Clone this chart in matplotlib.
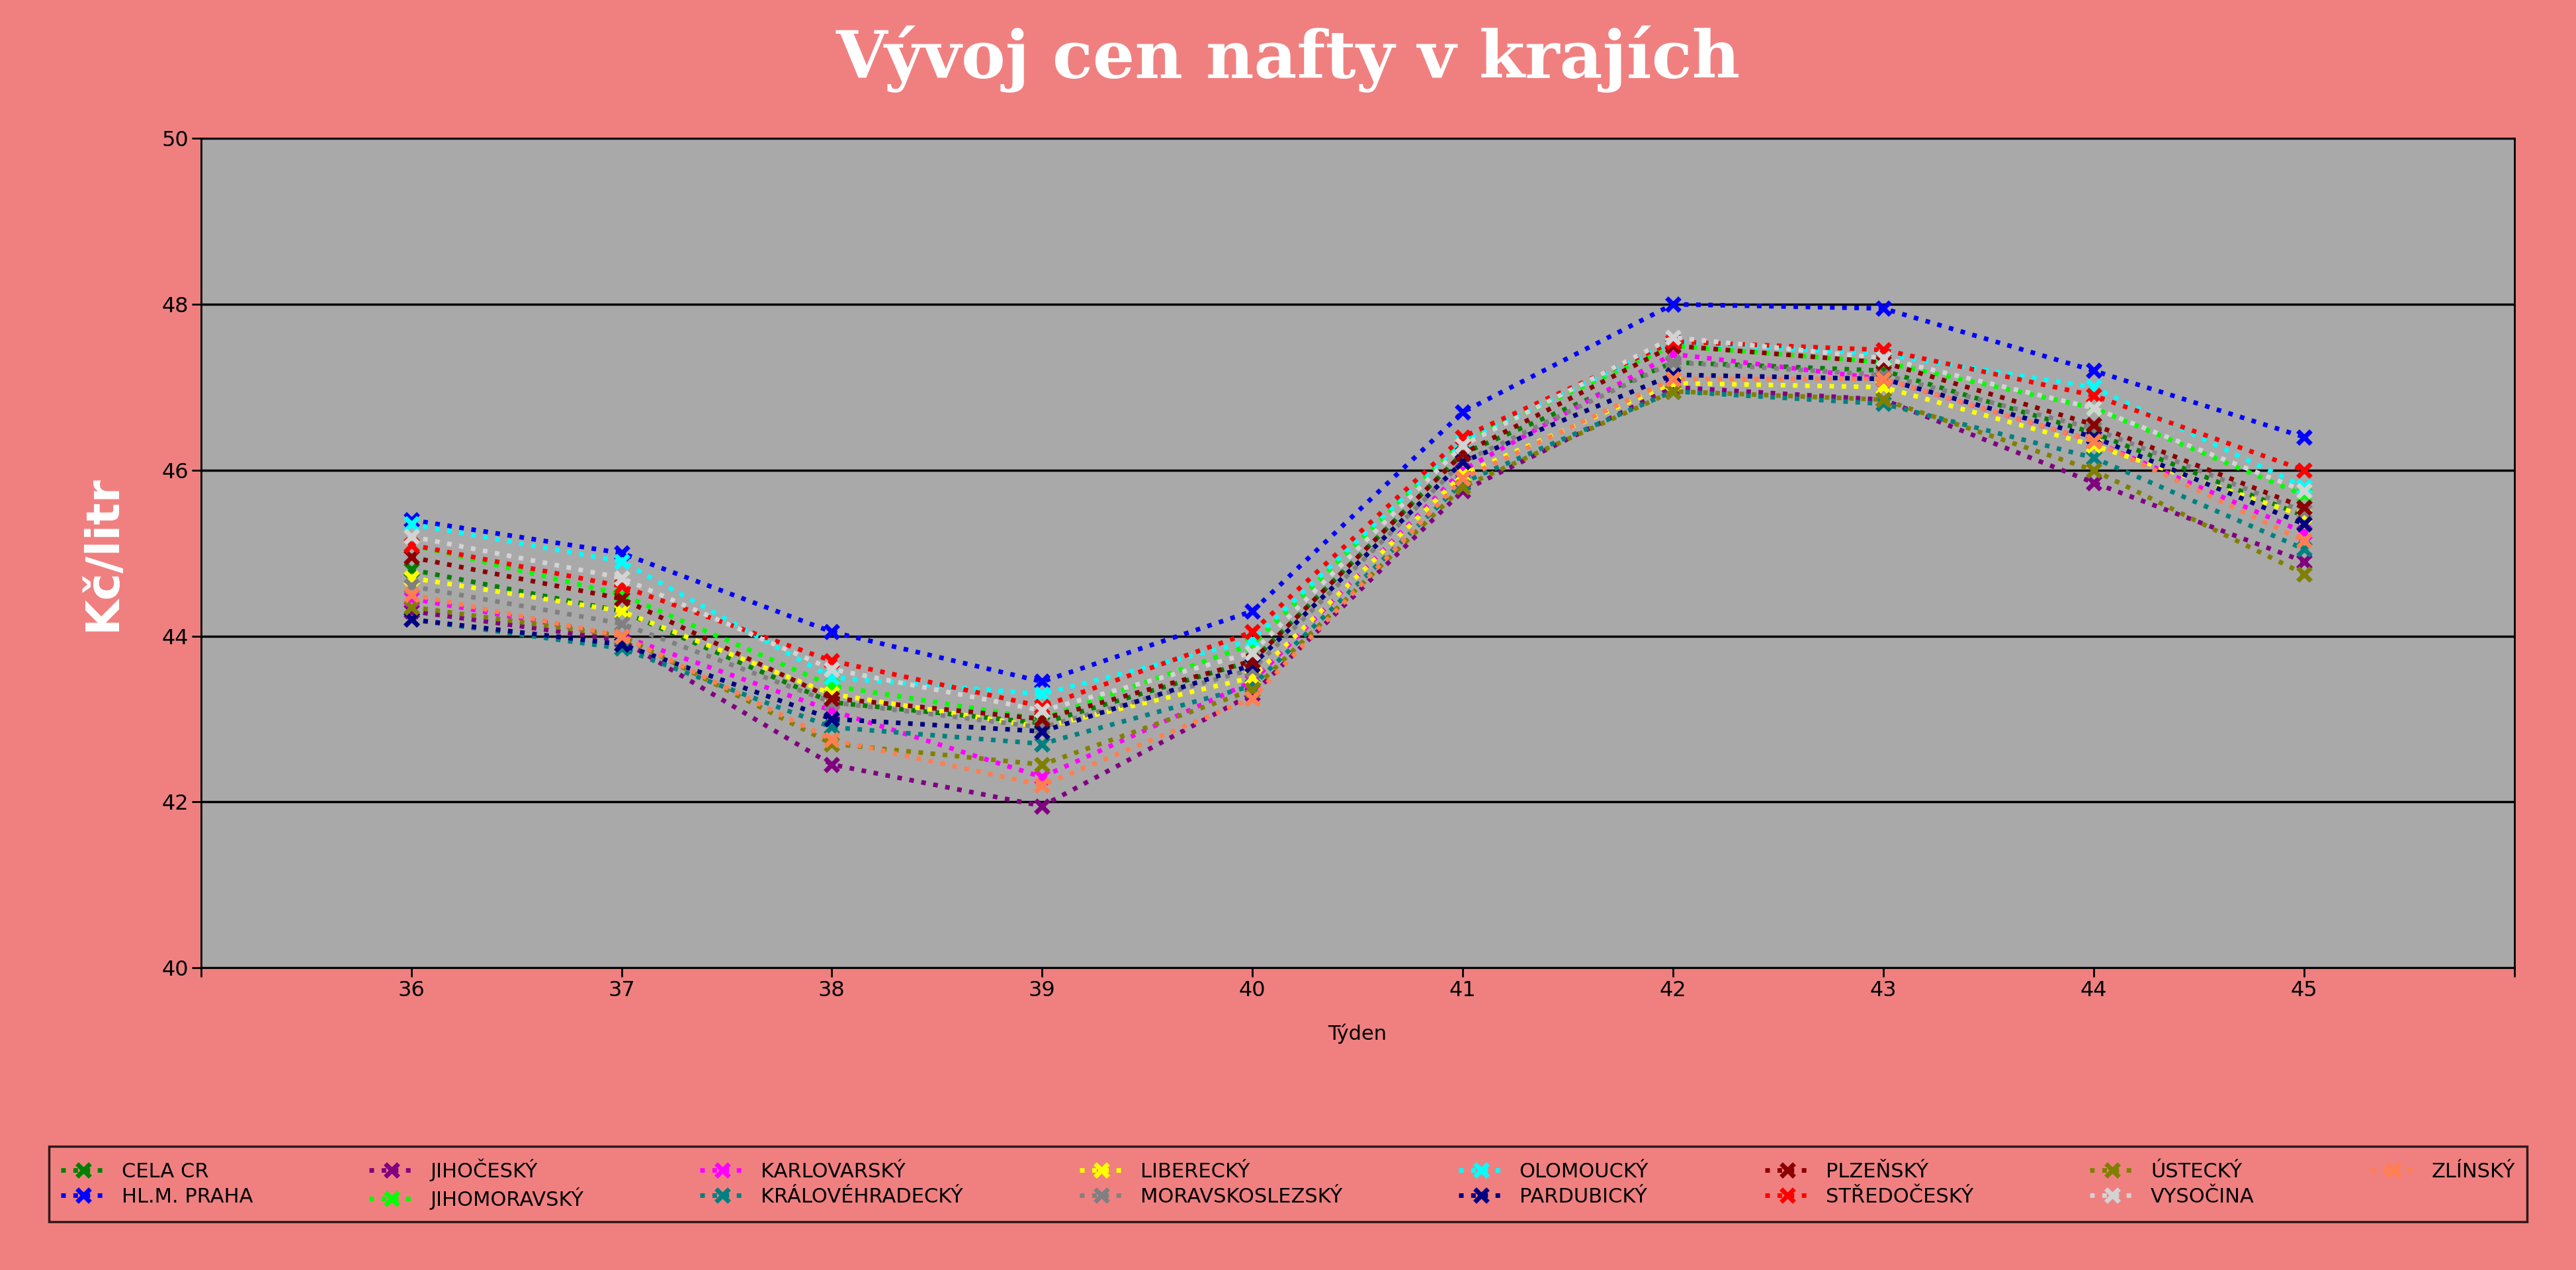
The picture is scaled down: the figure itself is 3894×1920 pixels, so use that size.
import matplotlib; matplotlib.use("Agg")
import matplotlib.pyplot as plt

weeks = [36, 37, 38, 39, 40, 41, 42, 43, 44, 45]
names = ["CELA CR", "HL.M. PRAHA", "JIHOČESKÝ", "JIHOMORAVSKÝ", "KARLOVARSKÝ",
         "KRÁLOVÉHRADECKÝ", "LIBERECKÝ", "MORAVSKOSLEZSKÝ", "OLOMOUCKÝ", "PARDUBICKÝ",
         "PLZEŇSKÝ", "STŘEDOČESKÝ", "ÚSTECKÝ", "VYSOČINA", "ZLÍNSKÝ"]
colors = ["green", "blue", "purple", "lime", "magenta", "teal", "yellow", "gray",
          "cyan", "navy", "darkred", "red", "olive", "lightgray", "coral"]

cela_cr   = [44.80, 44.30, 43.20, 42.95, 43.70, 46.20, 47.30, 47.20, 46.45, 45.45]
praha     = [45.40, 45.00, 44.05, 43.45, 44.30, 46.70, 48.00, 47.95, 47.20, 46.40]
jihocesky = [44.30, 43.95, 42.45, 41.95, 43.30, 45.75, 47.00, 46.85, 45.85, 44.90]
jihomor   = [45.10, 44.50, 43.40, 43.00, 43.90, 46.35, 47.50, 47.30, 46.75, 45.70]
karlovar  = [44.45, 44.00, 43.10, 42.30, 43.45, 46.00, 47.40, 47.10, 46.35, 45.25]
kralove   = [44.20, 43.85, 42.90, 42.70, 43.40, 45.85, 46.95, 46.80, 46.15, 45.05]
liberec   = [44.70, 44.30, 43.30, 42.90, 43.50, 45.95, 47.05, 47.00, 46.30, 45.45]
moravsko  = [44.60, 44.15, 43.20, 42.90, 43.60, 46.10, 47.30, 47.15, 46.50, 45.50]
olomouc   = [45.35, 44.90, 43.50, 43.30, 43.95, 46.35, 47.55, 47.40, 47.00, 45.80]
pardubice = [44.20, 43.90, 43.00, 42.85, 43.65, 46.10, 47.15, 47.10, 46.40, 45.35]
plzen     = [44.95, 44.45, 43.25, 43.00, 43.70, 46.20, 47.50, 47.30, 46.55, 45.55]
stredo    = [45.10, 44.60, 43.70, 43.15, 44.05, 46.40, 47.55, 47.45, 46.90, 46.00]
usti      = [44.35, 44.00, 42.70, 42.45, 43.35, 45.80, 46.95, 46.85, 46.00, 44.75]
vysocina  = [45.20, 44.70, 43.60, 43.10, 43.80, 46.30, 47.60, 47.35, 46.75, 45.75]
zlin      = [44.50, 44.00, 42.75, 42.20, 43.25, 45.90, 47.10, 47.10, 46.35, 45.15]
series = [cela_cr, praha, jihocesky, jihomor, karlovar, kralove, liberec, moravsko,
          olomouc, pardubice, plzen, stredo, usti, vysocina, zlin]

bg = "#F08080"
fig = plt.figure(figsize=(38.94, 19.2), dpi=100, facecolor=bg)
ax = fig.add_axes([0.078, 0.238, 0.898, 0.653])
ax.set_facecolor("#A9A9A9")
for name, c, vals in zip(names, colors, series):
    ax.plot(weeks, vals, linestyle=":", color=c, lw=5, marker="x", ms=14, mew=5, label=name)

ax.set_xlim(35, 46)
ax.set_ylim(40, 50)
ax.set_xticks(range(35, 47))
ax.set_xticklabels([""] + [str(w) for w in weeks] + [""])
ax.set_yticks(range(40, 51, 2))
ax.grid(axis="y", color="black", lw=2.5)
ax.set_axisbelow(True)
ax.tick_params(labelsize=23, length=10, width=2)
for s in ax.spines.values():
    s.set_linewidth(2)
ax.set_xlabel("Týden", fontsize=22, labelpad=25)
ax.set_ylabel("Kč/litr", fontsize=50, color="white", fontweight="bold", labelpad=40)
fig.suptitle("Vývoj cen nafty v krajích", fontsize=72, fontweight="bold", color="white",
             family="DejaVu Serif", y=0.98)

leg = fig.legend(loc="lower left", bbox_to_anchor=(0.015, 0.03, 0.97, 0.09), ncol=8,
                 fontsize=22, mode="expand", frameon=True, facecolor=bg, edgecolor="black",
                 fancybox=False, handlelength=2.2, borderpad=0.6, labelspacing=0.3)
leg.get_frame().set_linewidth(2.5)

plt.savefig("out.png", dpi=100, facecolor=bg)
